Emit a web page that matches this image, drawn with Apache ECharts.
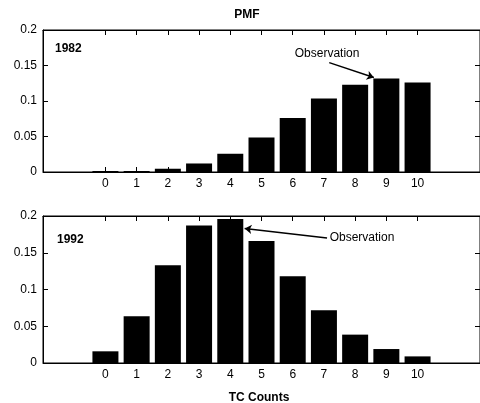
<!DOCTYPE html>
<html>
<head>
<meta charset="utf-8">
<script src="https://cdn.jsdelivr.net/npm/echarts@6/dist/echarts.min.js"></script>
<style>
  html, body { margin: 0; padding: 0; background: #fff; }
  #chart { width: 480px; height: 403px; }
</style>
</head>
<body>
<div id="chart"></div>
<script>
// TC counts 0..10
const counts = [0, 1, 2, 3, 4, 5, 6, 7, 8, 9, 10];
const yTicks = [0, 0.05, 0.1, 0.15, 0.2];
const pmf1982 = [0.0014, 0.0014, 0.0046, 0.012, 0.0257, 0.0486, 0.0759, 0.1034, 0.123, 0.1316, 0.126];
const pmf1992 = [0.0159, 0.0635, 0.133, 0.187, 0.196, 0.166, 0.118, 0.0717, 0.0386, 0.019, 0.009];
// observation arrows: [from, to] in data coords, plus label position
const obs1982 = [[7.17, 0.154], [8.6, 0.133]];
const obsLabel1982 = [7.1, 0.166];
const obs1992 = [[7.1, 0.170], [4.46, 0.183]];
const obsLabel1992 = [8.22, 0.170];

const font = 'Liberation Sans, Arial, sans-serif';
const chart = echarts.init(document.getElementById('chart'));

const grids = [
  { left: 43, top: 30, width: 438, height: 142, show: true, backgroundColor: 'transparent', borderColor: '#000', borderWidth: 1 },
  { left: 43, top: 216, width: 438, height: 147, show: true, backgroundColor: 'transparent', borderColor: '#000', borderWidth: 1 },
];

const tickStyle = { show: true, inside: true, length: 5, lineStyle: { color: '#000', width: 1 } };

function xAxes(gi) {
  const base = {
    type: 'value', gridIndex: gi, min: -2, max: 12, interval: 1, z: 3,
    splitLine: { show: false },
    axisLine: { show: true, onZero: false, lineStyle: { color: '#000', width: 1 } },
    axisTick: Object.assign({ customValues: counts }, tickStyle),
  };
  return [
    Object.assign({}, base, {
      position: 'bottom',
      axisLabel: { show: true, customValues: counts, color: '#000', fontFamily: font, fontSize: 12, margin: 6 },
    }),
    Object.assign({}, base, {
      position: 'top',
      axisLabel: { show: false },
    }),
  ];
}

function yAxes(gi) {
  const base = {
    type: 'value', gridIndex: gi, min: 0, max: 0.2, interval: 0.05, z: 3,
    splitLine: { show: false },
    axisLine: { show: true, onZero: false, lineStyle: { color: '#000', width: 1 } },
    axisTick: Object.assign({ customValues: yTicks }, tickStyle),
  };
  return [
    Object.assign({}, base, {
      position: 'left',
      axisLabel: {
        color: '#000', fontFamily: font, fontSize: 12, margin: 6,
        customValues: yTicks,
        formatter: (v) => String(+v.toFixed(2)),
      },
    }),
    Object.assign({}, base, { position: 'right', axisLabel: { show: false } }),
  ];
}

function barSeries(i, values, arrow, labelAt) {
  return {
    type: 'bar',
    xAxisIndex: i * 2,
    yAxisIndex: i * 2,
    barWidth: 26,
    itemStyle: { color: '#000' },
    data: counts.map((c, k) => [c, values[k]]),
    markLine: {
      silent: true,
      symbol: ['none', 'arrow'],
      symbolSize: 7,
      lineStyle: { color: '#000', type: 'solid', width: 1.5 },
      label: { show: false },
      data: [[{ coord: arrow[0] }, { coord: arrow[1] }]],
    },
    markPoint: {
      silent: true,
      symbol: 'circle',
      symbolSize: 0,
      label: {
        show: true, position: 'inside', formatter: 'Observation',
        color: '#000', fontFamily: font, fontSize: 12,
      },
      data: [{ coord: labelAt }],
    },
  };
}

// empty series so the top/right frame axes get drawn too
function frameSeries(i) {
  return {
    type: 'line', xAxisIndex: i * 2 + 1, yAxisIndex: i * 2 + 1,
    data: [], silent: true, showSymbol: false,
  };
}

chart.setOption({
  animation: false,
  backgroundColor: '#fff',
  title: [
    { text: 'PMF', left: 242, top: 4, textAlign: 'center',
      textStyle: { fontFamily: font, fontSize: 12, fontWeight: 'bold', color: '#000' } },
    { text: 'TC Counts', left: 254, top: 387, textAlign: 'center',
      textStyle: { fontFamily: font, fontSize: 12, fontWeight: 'bold', color: '#000' } },
    { text: '1982', left: 50, top: 38,
      textStyle: { fontFamily: font, fontSize: 12, fontWeight: 'bold', color: '#000' } },
    { text: '1992', left: 52, top: 229,
      textStyle: { fontFamily: font, fontSize: 12, fontWeight: 'bold', color: '#000' } },
  ],
  grid: grids,
  xAxis: [].concat(xAxes(0), xAxes(1)),
  yAxis: [].concat(yAxes(0), yAxes(1)),
  series: [
    barSeries(0, pmf1982, obs1982, obsLabel1982),
    barSeries(1, pmf1992, obs1992, obsLabel1992),
    frameSeries(0),
    frameSeries(1),
  ],
});
</script>
</body>
</html>
